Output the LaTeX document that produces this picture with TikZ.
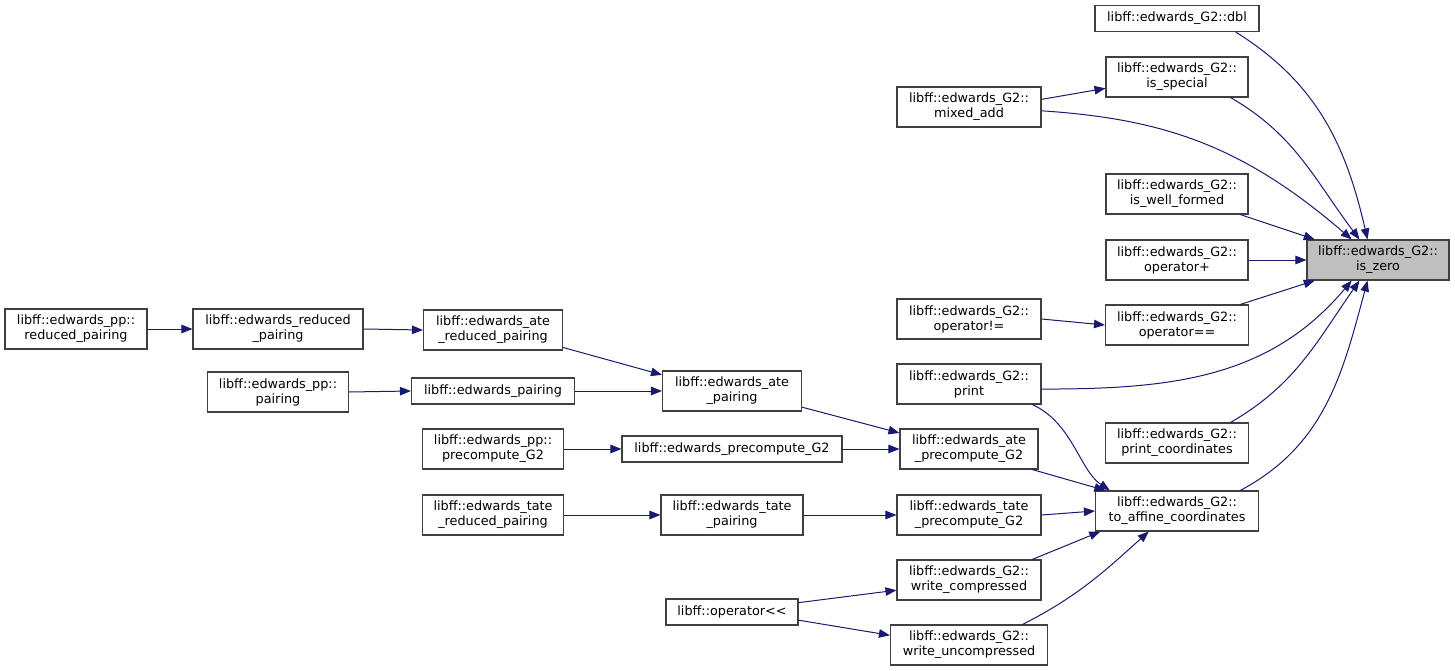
\documentclass[tikz,border=0pt]{standalone}
\usepackage{fontspec}
\setmainfont{DejaVu Sans}
\usetikzlibrary{arrows.meta}

\definecolor{dxblue}{HTML}{191970}
\definecolor{dxgray}{HTML}{BFBFBF}
\definecolor{dxframe}{HTML}{404040}

\begin{document}
\begin{tikzpicture}[x=1pt, y=-1pt,
  fnbox/.style={draw=dxframe, line width=1.1pt, fill=white, align=center,
    inner sep=2pt, minimum height=40pt, font=\fontsize{12.8}{15}\selectfont},
  onebox/.style={fnbox, minimum height=26pt},
  calledge/.style={dxblue, line width=1pt, -{Triangle[length=11pt,width=8.5pt]}}]

  \useasboundingbox (0,0) rectangle (1455,671);

  % ------------------------------------------------------------ the callee
  \node[fnbox, fill=dxgray, minimum width=142] (iszero) at (1378,260)
    {libff::edwards\_G2::\\is\_zero};

  % ------------------------------------------------------- direct callers
  \node[onebox, minimum width=164] (dbl) at (1177,18.5) {libff::edwards\_G2::dbl};
  \node[fnbox, minimum width=142] (isspecial) at (1177,77)
    {libff::edwards\_G2::\\is\_special};
  \node[fnbox, minimum width=142] (iswellformed) at (1177,194)
    {libff::edwards\_G2::\\is\_well\_formed};
  \node[fnbox, minimum width=142] (opplus) at (1177,260)
    {libff::edwards\_G2::\\operator+};
  \node[fnbox, minimum width=143] (opeq) at (1177,325)
    {libff::edwards\_G2::\\operator==};
  \node[fnbox, minimum width=143] (printcoord) at (1177,443)
    {libff::edwards\_G2::\\print\_coordinates};
  \node[fnbox, minimum width=163] (toaffine) at (1177,511)
    {libff::edwards\_G2::\\to\_affine\_coordinates};

  % ----------------------------------------------------------- second rank
  \node[fnbox, minimum width=144] (mixedadd) at (969,107)
    {libff::edwards\_G2::\\mixed\_add};
  \node[fnbox, minimum width=144] (opneq) at (969,319)
    {libff::edwards\_G2::\\operator!=};
  \node[fnbox, minimum width=144] (print) at (969,384)
    {libff::edwards\_G2::\\print};
  \node[fnbox, minimum width=138] (atepre) at (969,449)
    {libff::edwards\_ate\\\_precompute\_G2};
  \node[fnbox, minimum width=144] (tatepre) at (969,515)
    {libff::edwards\_tate\\\_precompute\_G2};
  \node[fnbox, minimum width=144] (writecomp) at (969,580)
    {libff::edwards\_G2::\\write\_compressed};
  \node[fnbox, minimum width=157] (writeuncomp) at (969,645)
    {libff::edwards\_G2::\\write\_uncompressed};

  % ------------------------------------------------------------ third rank
  \node[fnbox, minimum width=139] (atepairing) at (732,391)
    {libff::edwards\_ate\\\_pairing};
  \node[onebox, minimum width=220] (precomp) at (732,449)
    {libff::edwards\_precompute\_G2};
  \node[fnbox, minimum width=142] (tatepairing) at (732,515)
    {libff::edwards\_tate\\\_pairing};
  \node[onebox, minimum width=132] (opshift) at (732,612) {libff::operator<{}<};

  % ----------------------------------------------------------- fourth rank
  \node[fnbox, minimum width=139] (atered) at (493,330)
    {libff::edwards\_ate\\\_reduced\_pairing};
  \node[onebox, minimum width=163] (edpairing) at (493,391)
    {libff::edwards\_pairing};
  \node[fnbox, minimum width=141] (pppre) at (493,449)
    {libff::edwards\_pp::\\precompute\_G2};
  \node[fnbox, minimum width=141] (tatered) at (493,515)
    {libff::edwards\_tate\\\_reduced\_pairing};

  % ------------------------------------------------------ fifth/sixth rank
  \node[fnbox, minimum width=170] (edred) at (278,329)
    {libff::edwards\_reduced\\\_pairing};
  \node[fnbox, minimum width=141] (pppairing) at (278,392)
    {libff::edwards\_pp::\\pairing};
  \node[fnbox, minimum width=142] (ppred) at (76,329)
    {libff::edwards\_pp::\\reduced\_pairing};

  % ------------------------------------------------- straight, side to side
  \foreach \a/\b in {ppred/edred, edred/atered, pppairing/edpairing,
      edpairing/atepairing, pppre/precomp, tatered/tatepairing,
      precomp/atepre, tatepairing/tatepre, tatepre/toaffine,
      opplus/iszero, opneq/opeq}
    \draw[calledge] (\a.east) -- (\b.west);

  % ----------------------------------------------- straight, slanted ones
  \foreach \a/\p/\b/\q in {iswellformed/-18/iszero/162, opeq/18/iszero/198,
      mixedadd/6/isspecial/189, atepre/-18/toaffine/164,
      writecomp/18/toaffine/195, opshift/8/writecomp/188,
      opshift/-7/writeuncomp/173, atepairing/-13/atepre/167,
      atered/-14/atepairing/167}
    \draw[calledge] (\a.\p) -- (\b.\q);

  % --------------------------------------------------------- curved ones
  \draw[calledge] (dbl.-13) to[out=-32, in=103] (iszero.117);
  \draw[calledge] (isspecial.-21) to[out=-30, in=127] (iszero.132);
  \draw[calledge] (mixedadd.-3) .. controls +(120,8) and +(-110,-95) .. (iszero.142);
  \draw[calledge] (print.-4) to[out=0, in=-130] (iszero.218);
  \draw[calledge] (printcoord.21) to[out=30, in=-125] (iszero.228);
  \draw[calledge] (toaffine.18) to[out=28, in=-105] (iszero.243);
  \draw[calledge] (print.-18) .. controls +(40,18) and +(-30,-20) .. (toaffine.163);
  \draw[calledge] (writeuncomp.21) to[out=27, in=-138] (toaffine.216);

\end{tikzpicture}
\end{document}
